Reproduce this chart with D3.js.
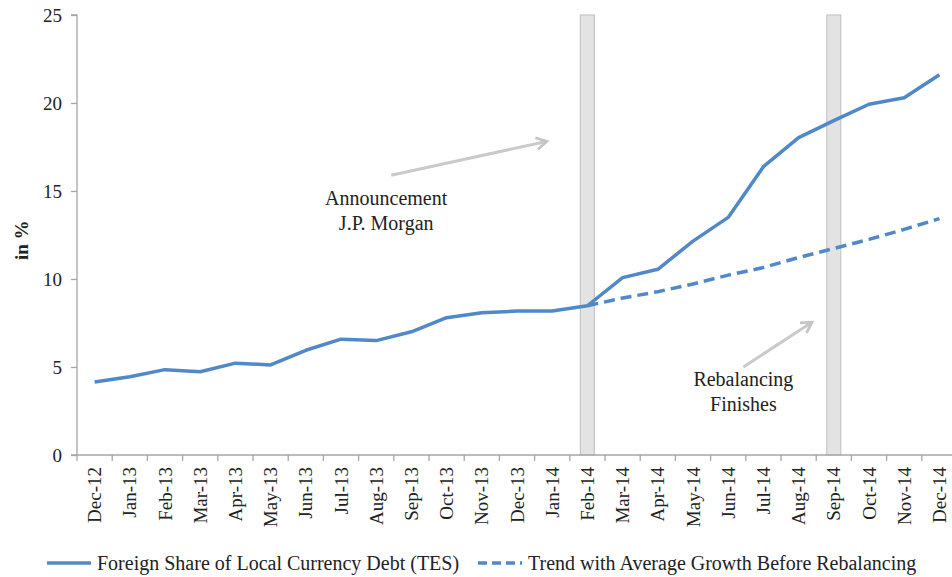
<!DOCTYPE html>
<html lang="en">
<head>
    <meta charset="UTF-8">
    <title>Foreign share of TES</title>
    <script src="https://cdn.jsdelivr.net/npm/d3@7"></script>
    <style>
        html, body {
            margin: 0;
            background: #fff;
        }

        svg text {
            font-family: "Liberation Serif", "DejaVu Serif", serif !important;
            fill: #222;
        }

        .axis path, .axis line {
            stroke: #a6a6a6;
            stroke-width: 1.3px;
        }
    </style>
</head>
<body>
<div class="chart"></div>

<script>
    var months = ['Dec-12', 'Jan-13', 'Feb-13', 'Mar-13', 'Apr-13', 'May-13', 'Jun-13', 'Jul-13',
        'Aug-13', 'Sep-13', 'Oct-13', 'Nov-13', 'Dec-13', 'Jan-14', 'Feb-14', 'Mar-14', 'Apr-14',
        'May-14', 'Jun-14', 'Jul-14', 'Aug-14', 'Sep-14', 'Oct-14', 'Nov-14', 'Dec-14'];

    var foreignShare = [4.15, 4.45, 4.85, 4.73, 5.22, 5.12, 5.95, 6.58, 6.5, 7.0, 7.8, 8.08,
        8.18, 8.18, 8.48, 10.08, 10.55, 12.15, 13.5, 16.38, 18.03, 19.0, 19.93, 20.3, 21.6];

    // trend starts at Feb-14
    var trendMonths = months.slice(14);
    var trend = [8.48, 8.92, 9.28, 9.72, 10.22, 10.65, 11.22, 11.73, 12.25, 12.82, 13.43];

    var yTicks = [0, 5, 10, 15, 20, 25];
    var highlightMonths = ['Feb-14', 'Sep-14'];

    var width = 952;
    var height = 577;
    var margin = {left: 77, top: 15, plotRight: 957, bottom: 455};

    var svg = d3.select('.chart').append('svg')
        .attr('width', width)
        .attr('height', height);

    var x = d3.scaleBand()
        .domain(months)
        .range([margin.left, margin.plotRight]);

    var y = d3.scaleLinear()
        .domain([0, 25])
        .range([margin.bottom, margin.top]);

    var cx = function (m) {
        return x(m) + x.bandwidth() / 2;
    };

    // grey event bars
    svg.selectAll('rect.event')
        .data(highlightMonths)
        .enter().append('rect')
        .attr('class', 'event')
        .attr('x', function (d) { return cx(d) - 7; })
        .attr('y', y(25))
        .attr('width', 14)
        .attr('height', y(0) - y(25))
        .attr('fill', '#e3e3e3')
        .attr('stroke', '#c6c6c6')
        .attr('stroke-width', 1.2);

    // axes
    var yAxis = d3.axisLeft(y).tickValues(yTicks).tickSize(6).tickPadding(9);
    var yg = svg.append('g').attr('class', 'axis')
        .attr('transform', 'translate(' + margin.left + ',0)')
        .call(yAxis);
    yg.select('.domain').attr('d', 'M-6,' + y(25) + 'H0V' + y(0) + 'H-6');
    yg.selectAll('text').style('font-size', '19px');

    var xAxis = d3.axisBottom(x).tickSize(0).tickPadding(0);
    var xg = svg.append('g').attr('class', 'axis')
        .attr('transform', 'translate(0,' + margin.bottom + ')')
        .call(xAxis);
    xg.select('.domain').attr('d', 'M' + margin.left + ',0H' + margin.plotRight);
    // tick marks sit on band edges
    xg.selectAll('line.edge')
        .data(months)
        .enter().append('line')
        .attr('class', 'edge')
        .attr('x1', function (d) { return x(d); })
        .attr('x2', function (d) { return x(d); })
        .attr('y1', 0)
        .attr('y2', 6);
    xg.selectAll('.tick text')
        .attr('transform', 'rotate(-90)')
        .attr('x', -12)
        .attr('y', 0)
        .attr('dy', '0.35em')
        .style('text-anchor', 'end')
        .style('font-size', '19px');

    svg.append('text')
        .attr('transform', 'translate(28,' + y(12.2) + ') rotate(-90)')
        .attr('text-anchor', 'middle')
        .style('font-size', '19px')
        .style('font-weight', 'bold')
        .text('in %');

    // lines
    var line = d3.line()
        .x(function (d) { return cx(d.m); })
        .y(function (d) { return y(d.v); });

    svg.append('path')
        .datum(trendMonths.map(function (m, i) { return {m: m, v: trend[i]}; }))
        .attr('d', line)
        .attr('fill', 'none')
        .attr('stroke', '#5088c8')
        .attr('stroke-width', 3.5)
        .attr('stroke-dasharray', '11,6');

    svg.append('path')
        .datum(months.map(function (m, i) { return {m: m, v: foreignShare[i]}; }))
        .attr('d', line)
        .attr('fill', 'none')
        .attr('stroke', '#5088c8')
        .attr('stroke-width', 3.5)
        .attr('stroke-linejoin', 'round');

    // annotations
    var defs = svg.append('defs');
    defs.append('marker')
        .attr('id', 'head')
        .attr('viewBox', '0 0 10 10')
        .attr('refX', 7)
        .attr('refY', 5)
        .attr('markerWidth', 5)
        .attr('markerHeight', 5)
        .attr('orient', 'auto')
        .append('path')
        .attr('d', 'M1,1L8,5L1,9')
        .attr('fill', 'none')
        .attr('stroke', '#c4c4c4')
        .attr('stroke-width', 1.8);

    var arrows = [
        {x1: cx('Aug-13') + 15, y1: y(15.9), x2: cx('Feb-14') - 42, y2: y(17.8)},
        {x1: cx('Jul-14') - 20, y1: y(5), x2: cx('Sep-14') - 23, y2: y(7.5)}
    ];
    svg.selectAll('line.arrow')
        .data(arrows)
        .enter().append('line')
        .attr('class', 'arrow')
        .attr('x1', function (d) { return d.x1; })
        .attr('y1', function (d) { return d.y1; })
        .attr('x2', function (d) { return d.x2; })
        .attr('y2', function (d) { return d.y2; })
        .attr('stroke', '#cacaca')
        .attr('stroke-width', 3)
        .attr('marker-end', 'url(#head)');

    var notes = [
        {x: cx('Aug-13') + 10, y: y(14.2), lines: ['Announcement', 'J.P. Morgan']},
        {x: cx('Jul-14') - 20, y: y(3.9), lines: ['Rebalancing', 'Finishes']}
    ];
    notes.forEach(function (n) {
        var t = svg.append('text')
            .attr('text-anchor', 'middle')
            .style('font-size', '20px');
        n.lines.forEach(function (s, i) {
            t.append('tspan').attr('x', n.x).attr('y', n.y + i * 25).text(s);
        });
    });

    // legend
    var legend = [
        {label: 'Foreign Share of Local Currency Debt (TES)', x: 47, dash: null},
        {label: 'Trend with Average Growth Before Rebalancing', x: 478, dash: '9,5'}
    ];
    var lg = svg.selectAll('g.legend')
        .data(legend)
        .enter().append('g')
        .attr('class', 'legend')
        .attr('transform', function (d) { return 'translate(' + d.x + ',563)'; });
    lg.append('line')
        .attr('x1', 0).attr('x2', 44)
        .attr('y1', 0).attr('y2', 0)
        .attr('stroke', '#5088c8')
        .attr('stroke-width', 3.5)
        .attr('stroke-dasharray', function (d) { return d.dash; });
    lg.append('text')
        .attr('x', 50)
        .attr('y', 0)
        .attr('dy', '0.35em')
        .style('font-size', '20px')
        .text(function (d) { return d.label; });
</script>
</body>
</html>
